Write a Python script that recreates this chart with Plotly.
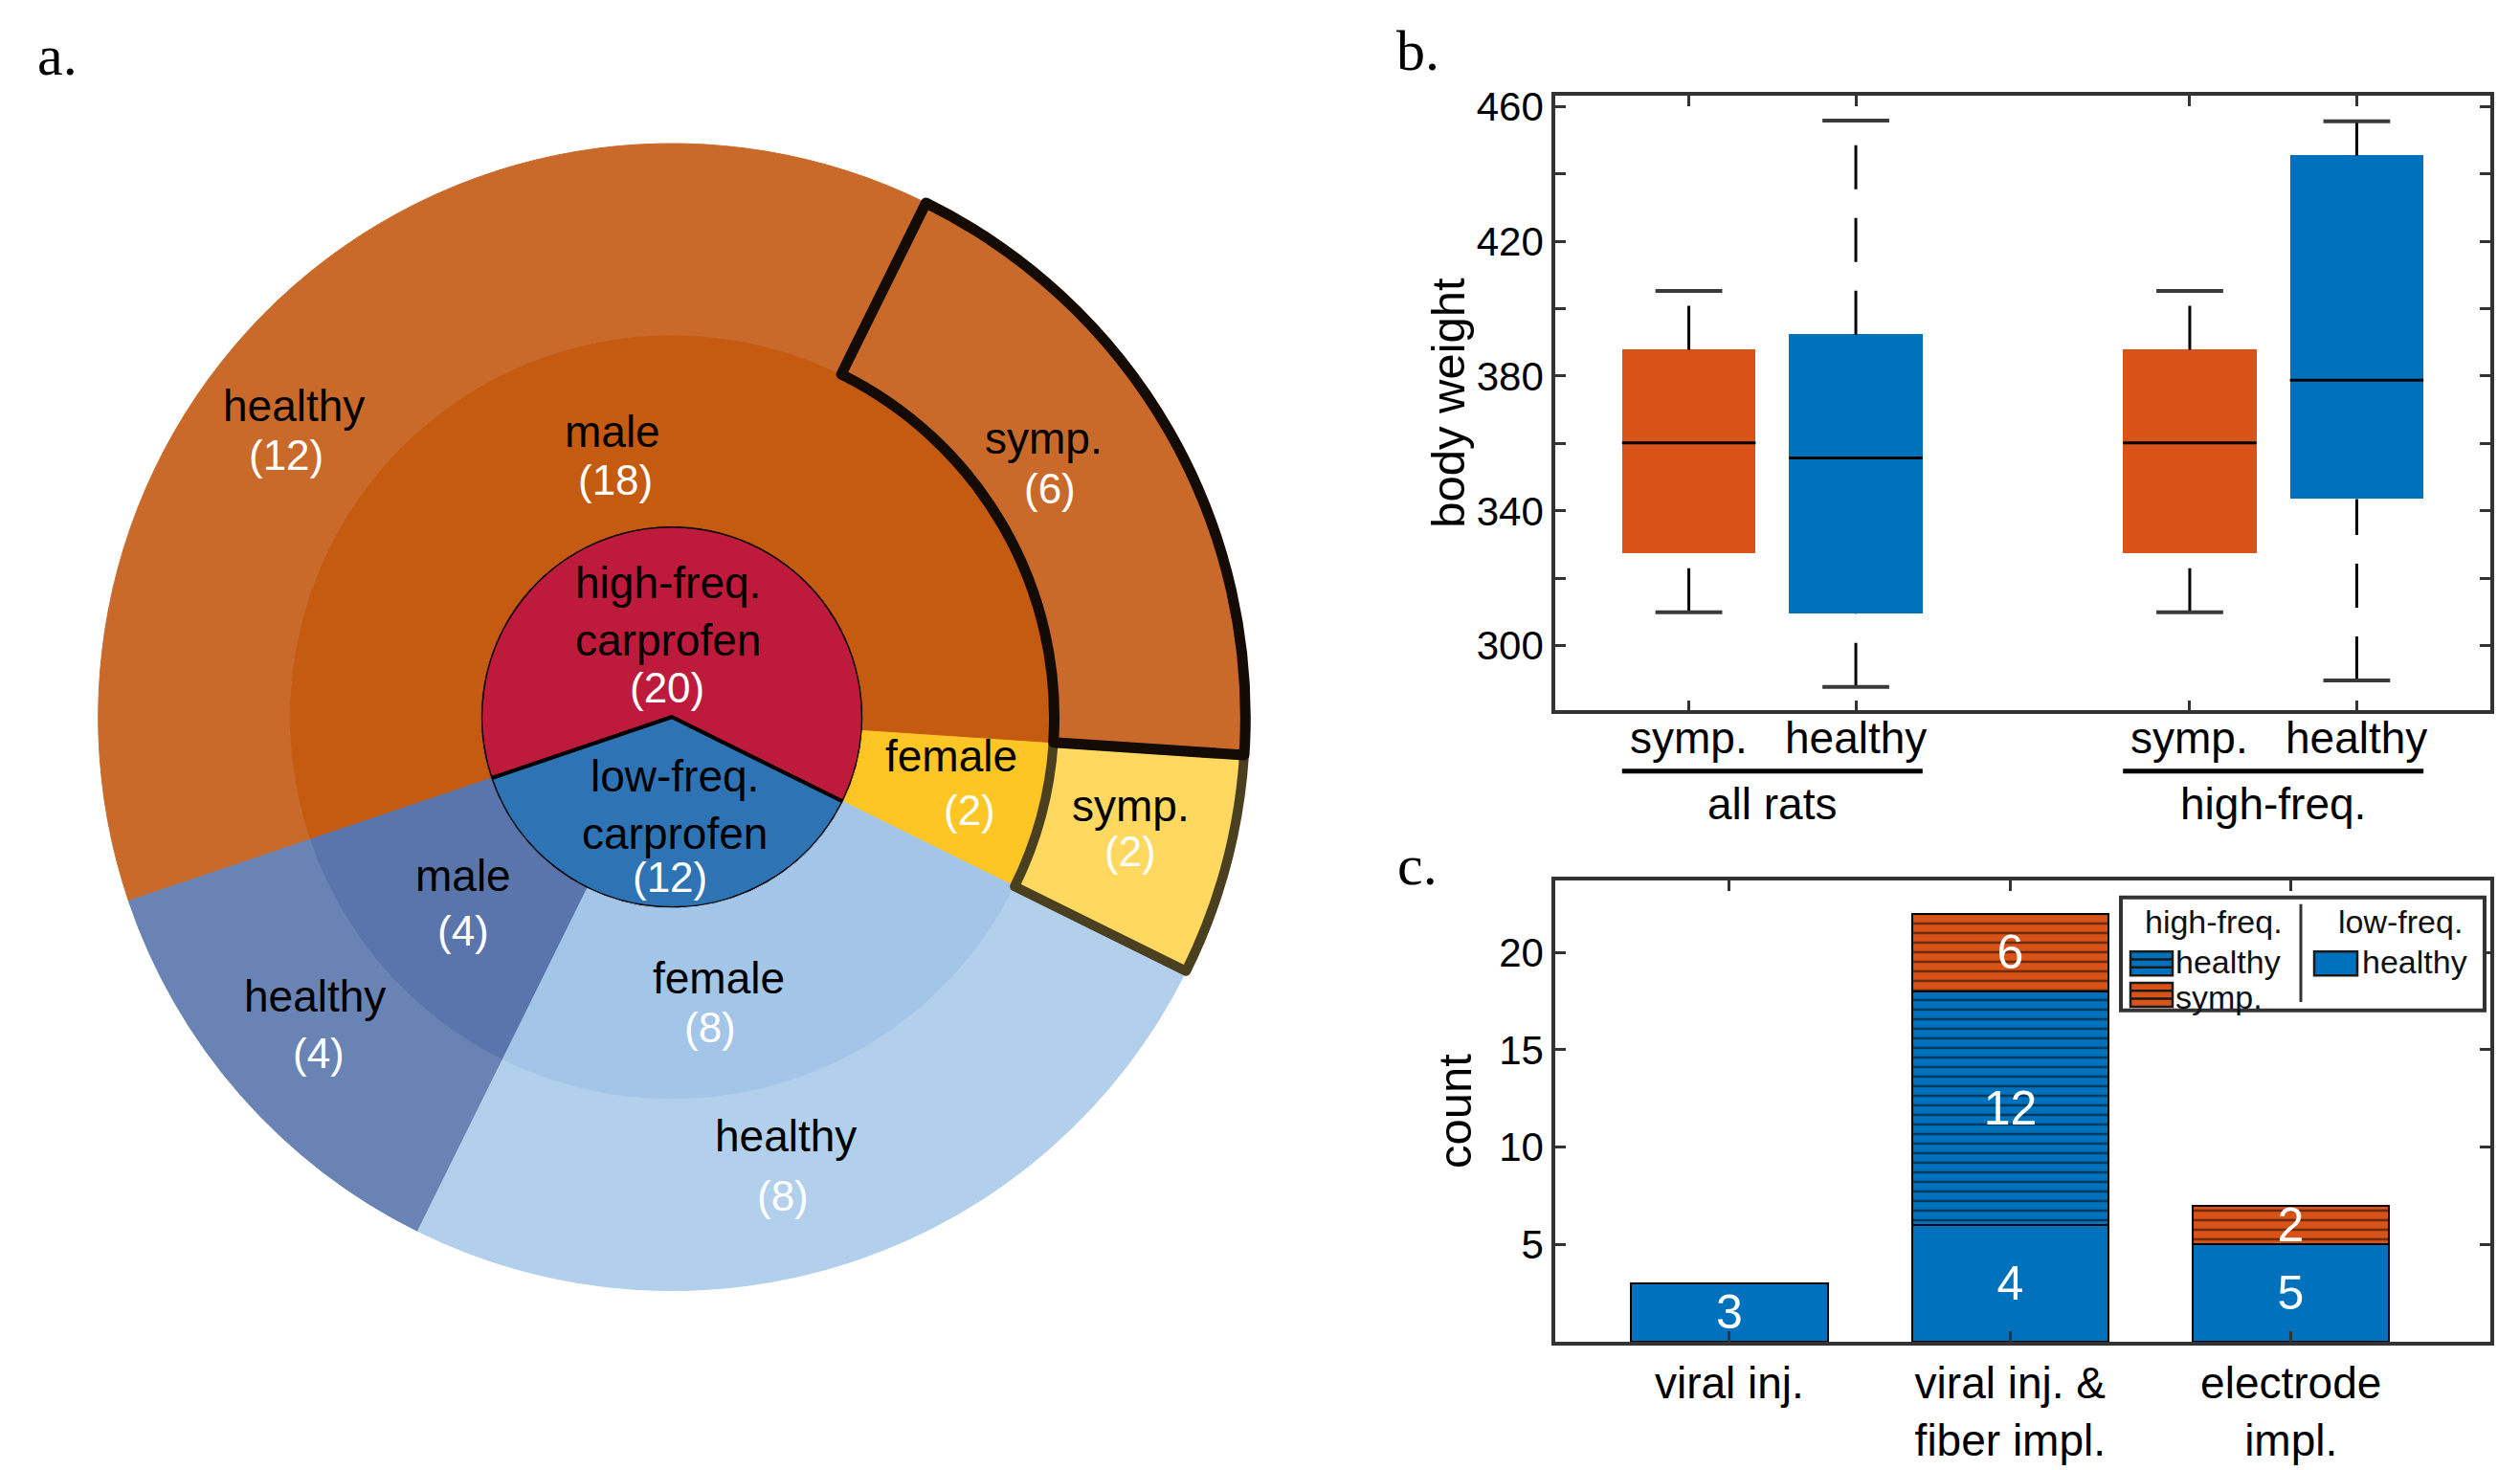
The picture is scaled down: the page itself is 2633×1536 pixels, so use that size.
import plotly.graph_objects as go

W, H = 2633, 1536

# ---------------- data: panel a (sunburst, counter-clockwise order) ----------------
sb_ids = ["hf", "lf", "hf-f", "hf-m", "lf-m", "lf-f",
          "hf-f-s", "hf-m-s", "hf-m-h", "lf-m-h", "lf-f-h"]
sb_parents = ["", "", "hf", "hf", "lf", "lf",
              "hf-f", "hf-m", "hf-m", "lf-m", "lf-f"]
sb_labels = ["high-freq.<br>carprofen", "low-freq.<br>carprofen", "female", "male", "male", "female",
             "symp.", "symp.", "healthy", "healthy", "healthy"]
sb_values = [20, 12, 2, 18, 4, 8, 2, 6, 12, 4, 8]
sb_colors = ["#BE1A3C", "#2E74B5", "#FEC624", "#C55A11", "#5975AB", "#A3C5E8",
             "#FFD85F", "#C96A2A", "#C96A2A", "#6A83B5", "#B2CFEB"]

# ---------------- data: panel b (box summary) ----------------
box_pos = [1, 2, 4, 5]
box_ticktext = ["symp.", "healthy", "symp.", "healthy"]
box_q1 = [327.5, 309.4, 327.5, 343.5]
box_med = [360.2, 355.7, 360.2, 378.8]
box_q3 = [387.8, 392.3, 387.8, 445.4]
box_lo = [309.9, 287.8, 309.9, 289.7]
box_hi = [405.3, 455.8, 405.3, 455.6]
box_colors = ["#D95319", "#0072BD", "#D95319", "#0072BD"]
group_labels = ["all rats", "high-freq."]
group_span = [(0.6, 2.4), (3.6, 5.4)]

# ---------------- data: panel c (stacked counts) ----------------
proc_pos = [1, 2, 3]
proc_labels = ["viral inj.", "viral inj. &<br>fiber impl.", "electrode<br>impl."]
lf_healthy = [3, 6, 5]
hf_healthy = [0, 12, 0]
hf_symp = [0, 4, 2]
lf_healthy_txt = ["3", "4", "5"]
hf_healthy_txt = ["", "12", ""]
hf_symp_txt = ["", "6", "2"]

BLUE = "#0072BD"
ORANGE = "#D95319"
AX = "#333333"
SANS = "Liberation Sans, Arial, sans-serif"
NARROW = "Liberation Sans Narrow, Liberation Sans, Arial Narrow, sans-serif"
SERIF = "Liberation Serif, Times New Roman, serif"


def px(x):
    return x / W


def py(y):
    return 1 - y / H


fig = go.Figure()

# ---------------- panel a ----------------
cx, cy, R = 694, 735, 604
dom = dict(x=[px(cx - R), px(cx + R)], y=[py(cy + R), py(cy - R)])

base_w, base_c = [], []
over_w, over_c = [], []
for i, sid in enumerate(sb_ids):
    if sid in ("hf", "lf"):
        base_w.append(4)
        base_c.append("#000000")
    else:
        base_w.append(1)
        base_c.append(sb_colors[i])
    if sid == "hf-m-s":
        over_w.append(11)
        over_c.append("#140c04")
    elif sid == "hf-f-s":
        over_w.append(10)
        over_c.append("#4a4020")
    else:
        over_w.append(0)
        over_c.append("rgba(0,0,0,0)")

fig.add_trace(go.Sunburst(
    ids=sb_ids, parents=sb_parents, labels=sb_labels, values=sb_values,
    branchvalues="total", sort=False, rotation=-26.3, leaf=dict(opacity=1),
    marker=dict(colors=sb_colors, line=dict(color=base_c, width=base_w)),
    textinfo="none", hoverinfo="skip", domain=dom,
))
# outline overlay for the symptomatic sectors
fig.add_trace(go.Sunburst(
    ids=sb_ids, parents=sb_parents, labels=sb_labels, values=sb_values,
    branchvalues="total", sort=False, rotation=-26.3, leaf=dict(opacity=1),
    marker=dict(colors=["rgba(0,0,0,0)"] * len(sb_ids), line=dict(color=over_c, width=over_w)),
    textinfo="none", hoverinfo="skip", domain=dom,
))

# label offsets (px from pie centre): name line(s) and count line
label_pos = {
    "hf-m-h": ((-395, -325), (-403, -274)),
    "hf-m": ((-62, -298), (-59, -248)),
    "hf-m-s": ((388, -291), (395, -239)),
    "hf": ((-4, -110), (-5, -31)),
    "hf-f": ((292, 41), (311, 97)),
    "hf-f-s": ((479, 93), (479, 140)),
    "lf": ((3, 92), (-2, 167)),
    "lf-m": ((-218, 166), (-218, 223)),
    "lf-m-h": ((-373, 292), (-369, 351)),
    "lf-f": ((49, 273), (40, 324)),
    "lf-f-h": ((119, 438), (116, 500)),
}
annotations = []
pcx = (dom["x"][0] + dom["x"][1]) / 2
pcy = (dom["y"][0] + dom["y"][1]) / 2
for sid, lab, val in zip(sb_ids, sb_labels, sb_values):
    (nx, ny), (vx, vy) = label_pos[sid]
    annotations.append(dict(x=pcx, y=pcy, xref="paper", yref="paper", xshift=nx, yshift=-ny,
                            text=lab, showarrow=False, font=dict(family=SANS, size=46, color="black"),
                            xanchor="center", yanchor="middle"))
    annotations.append(dict(x=pcx, y=pcy, xref="paper", yref="paper", xshift=vx, yshift=-vy,
                            text="(%d)" % val, showarrow=False, font=dict(family=SANS, size=44, color="white"),
                            xanchor="center", yanchor="middle"))

# ---------------- panel b ----------------
fig.add_trace(go.Bar(
    x=box_pos, y=[b - a for a, b in zip(box_q1, box_q3)], base=box_q1, width=0.8,
    marker=dict(color=box_colors, line=dict(width=0)), xaxis="x", yaxis="y",
    showlegend=False, hoverinfo="skip",
))
for p, q1, md, q3, lo, hi in zip(box_pos, box_q1, box_med, box_q3, box_lo, box_hi):
    fig.add_trace(go.Scatter(x=[p, p], y=[q3, hi], mode="lines", xaxis="x", yaxis="y",
                             line=dict(color="black", width=3, dash="46px,30px"),
                             showlegend=False, hoverinfo="skip"))
    fig.add_trace(go.Scatter(x=[p, p], y=[lo, q1], mode="lines", xaxis="x", yaxis="y",
                             line=dict(color="black", width=3, dash="46px,30px"),
                             showlegend=False, hoverinfo="skip"))
    for v in (lo, hi):
        fig.add_trace(go.Scatter(x=[p - 0.2, p + 0.2], y=[v, v], mode="lines", xaxis="x", yaxis="y",
                                 line=dict(color="#3a3a3a", width=4),
                                 showlegend=False, hoverinfo="skip"))
    fig.add_trace(go.Scatter(x=[p - 0.4, p + 0.4], y=[md, md], mode="lines", xaxis="x", yaxis="y",
                             line=dict(color="black", width=3),
                             showlegend=False, hoverinfo="skip"))

# ---------------- panel c ----------------
bar_common = dict(x=proc_pos, width=0.7, xaxis="x2", yaxis="y2", showlegend=False, hoverinfo="skip",
                  textposition="inside", insidetextanchor="middle", textangle=0,
                  textfont=dict(family=NARROW, size=50, color="white"), constraintext="none")
fig.add_trace(go.Bar(y=lf_healthy, text=lf_healthy_txt,
                     marker=dict(color=BLUE, line=dict(color="black", width=2)), **bar_common))
fig.add_trace(go.Bar(y=hf_healthy, text=hf_healthy_txt,
                     marker=dict(color=BLUE, line=dict(color="black", width=2),
                                 pattern=dict(shape="-", fgcolor="black", bgcolor=BLUE, size=10,
                                              solidity=0.25, fillmode="overlay")), **bar_common))
fig.add_trace(go.Bar(y=hf_symp, text=hf_symp_txt,
                     marker=dict(color=ORANGE, line=dict(color="black", width=2),
                                 pattern=dict(shape="-", fgcolor="black", bgcolor=ORANGE, size=10,
                                              solidity=0.25, fillmode="overlay")), **bar_common))

axis_common = dict(ticks="inside", ticklen=11, tickwidth=3, tickcolor=AX, showline=True, linewidth=3.5,
                   linecolor=AX, mirror="ticks", showgrid=False, zeroline=False,
                   tickfont=dict(family=SANS, size=42, color="black"))
xd = [px(1617), px(2594)]
fig.update_layout(
    xaxis=dict(domain=xd, anchor="y", range=[0.2, 5.8], tickvals=box_pos,
               ticktext=[""] * len(box_pos), **axis_common),
    yaxis=dict(domain=[py(728), py(81)], anchor="x", range=[280.8, 463.1],
               tickvals=list(range(300, 461, 20)),
               ticktext=[str(v) if v % 40 == 20 else "" for v in range(300, 461, 20)], **axis_common),
    xaxis2=dict(domain=xd, anchor="y2", range=[0.38, 3.71], tickvals=proc_pos, ticktext=proc_labels,
                **{**axis_common, "tickfont": dict(family=SANS, size=46, color="black")}),
    yaxis2=dict(domain=[py(1393), py(907)], anchor="x2", range=[0, 23.7], tickvals=[5, 10, 15, 20],
                **axis_common),
)

shapes = []
# category labels of panel b, underlines and group labels
for p, t in zip(box_pos, box_ticktext):
    annotations.append(dict(x=p, y=py(757), xref="x", yref="paper", text=t, showarrow=False,
                            font=dict(family=SANS, size=46, color="black"), xanchor="center", yanchor="middle"))
for (a, b) in group_span:
    shapes.append(dict(type="line", xref="x", yref="paper", x0=a, x1=b, y0=py(792), y1=py(792),
                       line=dict(color="black", width=5)))
for lab, (a, b) in zip(group_labels, group_span):
    annotations.append(dict(x=(a + b) / 2, y=py(826), xref="x", yref="paper", text=lab, showarrow=False,
                            font=dict(family=SANS, size=46, color="black"), xanchor="center", yanchor="middle"))

annotations.append(dict(x=px(1505), y=py(404), xref="paper", yref="paper", text="body weight", textangle=-90,
                        showarrow=False, font=dict(family=SANS, size=49, color="black"),
                        xanchor="center", yanchor="middle"))
annotations.append(dict(x=px(1512), y=py(1150), xref="paper", yref="paper", text="count", textangle=-90,
                        showarrow=False, font=dict(family=SANS, size=49, color="black"),
                        xanchor="center", yanchor="middle"))

for t, (x, y) in zip(["a.", "b.", "c."], [(52, 38), (1473, 33), (1473, 891)]):
    annotations.append(dict(x=px(x), y=py(y), xref="paper", yref="paper", text=t, showarrow=False,
                            font=dict(family=SERIF, size=60, color="black"), xanchor="center", yanchor="middle"))

# legend (panel c)
shapes.append(dict(type="rect", xref="paper", yref="paper", x0=px(2208), x1=px(2588), y0=py(1044), y1=py(925),
                   line=dict(color=AX, width=4), fillcolor="white"))
shapes.append(dict(type="line", xref="paper", yref="paper", x0=px(2396), x1=px(2396), y0=py(1035), y1=py(932),
                   line=dict(color=AX, width=3)))
sw = [((2218, 2262, 982, 1007), BLUE, True), ((2218, 2262, 1015, 1040), ORANGE, True),
      ((2410, 2455, 982, 1007), BLUE, False)]
for (x0, x1, y0, y1), col, striped in sw:
    shapes.append(dict(type="rect", xref="paper", yref="paper", x0=px(x0), x1=px(x1), y0=py(y1), y1=py(y0),
                       line=dict(color="#1a1a1a", width=2.5), fillcolor=col))
    if striped:
        for f in (1 / 3, 2 / 3):
            yy = y0 + (y1 - y0) * f
            shapes.append(dict(type="line", xref="paper", yref="paper", x0=px(x0), x1=px(x1),
                               y0=py(yy), y1=py(yy), line=dict(color="#1a1a1a", width=2.5)))
leg_txt = [("high-freq.", 2305, 950, "center"), ("low-freq.", 2500, 950, "center"),
           ("healthy", 2263, 993, "left"), ("symp.", 2263, 1030, "left"), ("healthy", 2458, 993, "left")]
for t, x, y, anc in leg_txt:
    annotations.append(dict(x=px(x), y=py(y), xref="paper", yref="paper", text=t, showarrow=False,
                            font=dict(family=SANS, size=34, color="#111111"), xanchor=anc, yanchor="middle"))

fig.update_layout(
    width=W, height=H, autosize=False, margin=dict(l=0, r=0, t=0, b=0),
    paper_bgcolor="white", plot_bgcolor="white", barmode="stack", bargap=0,
    showlegend=False, annotations=annotations, shapes=shapes,
)

fig.write_html("out.html")
